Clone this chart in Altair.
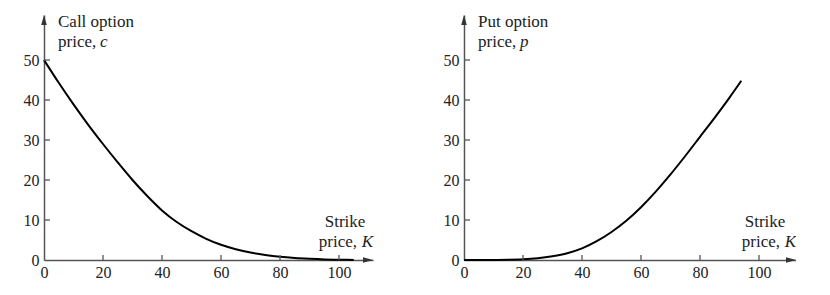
import altair as alt
import pandas as pd

# ---- data ----
call_strike = [0, 5, 10, 15, 20, 25, 30, 35, 40, 45, 50, 55, 60, 65, 70, 75, 80, 85, 90, 95, 100, 105]
call_price = [50, 44.3, 38.9, 33.8, 29.0, 24.4, 20.0, 16.0, 12.4, 9.5, 7.2, 5.3, 3.8, 2.7, 1.85, 1.25, 0.8, 0.5, 0.3, 0.15, 0.07, 0.02]

put_strike = [0, 10, 15, 20, 25, 30, 35, 40, 45, 50, 55, 60, 65, 70, 75, 80, 85, 90, 94]
put_price = [0.0, 0.02, 0.06, 0.18, 0.45, 0.95, 1.7, 2.9, 4.7, 7.0, 9.8, 13.2, 17.1, 21.4, 26.0, 30.8, 35.6, 40.6, 44.8]

x_ticks = [0, 20, 40, 60, 80, 100]
y_ticks = [0, 10, 20, 30, 40, 50]

FONT = "Times New Roman, Liberation Serif, serif"
AXIS_COLOR = "#555555"
TEXT_COLOR = "#222222"
H = 245
Y_MAX = 61.25
PX_PER_K = 2.95


def panel(strikes, prices, W, title1, var):
    xmax = W / PX_PER_K
    xs = alt.Scale(domain=[0, xmax], nice=False, zero=True)
    ys = alt.Scale(domain=[0, Y_MAX], nice=False, zero=True)
    df = pd.DataFrame({"K": strikes, "price": prices})

    xaxis = alt.Axis(values=x_ticks, ticks=False, grid=False, title=None,
                     labelFont=FONT, labelFontSize=16, labelColor=TEXT_COLOR,
                     labelPadding=4, domainColor=AXIS_COLOR, domainWidth=1.5,
                     labelFlush=False, labelOverlap=False)
    yaxis = alt.Axis(values=y_ticks, ticks=False, grid=False, title=None,
                     labelFont=FONT, labelFontSize=16, labelColor=TEXT_COLOR,
                     labelPadding=5, domainColor=AXIS_COLOR, domainWidth=1.5,
                     labelFlush=False, labelOverlap=False)

    line = alt.Chart(df).mark_line(color="black", strokeWidth=2, interpolate="monotone").encode(
        x=alt.X("K:Q", scale=xs, axis=xaxis),
        y=alt.Y("price:Q", scale=ys, axis=yaxis),
    )

    xt = alt.Chart(pd.DataFrame({"K": x_ticks[1:]})).mark_rule(
        color=AXIS_COLOR, strokeWidth=1.3).encode(
        x=alt.X("K:Q", scale=xs, axis=xaxis),
        y=alt.value(H), y2=alt.value(H - 5),
    )
    yt = alt.Chart(pd.DataFrame({"price": y_ticks[1:]})).mark_rule(
        color=AXIS_COLOR, strokeWidth=1.3).encode(
        y=alt.Y("price:Q", scale=ys, axis=yaxis),
        x=alt.value(0), x2=alt.value(6),
    )

    one = pd.DataFrame({"a": [0]})
    arrow_up = alt.Chart(one).mark_point(
        shape="M0,-1L0.55,1L-0.55,1Z", filled=True, size=100, color="#333333", opacity=1, strokeWidth=0
    ).encode(x=alt.value(0), y=alt.value(5))
    arrow_right = alt.Chart(one).mark_point(
        shape="M1,0L-1,-0.55L-1,0.55Z", filled=True, size=100, color="#333333", opacity=1, strokeWidth=0
    ).encode(x=alt.value(W - 5), y=alt.value(H))

    def txt(s, x, y, align="left", italic=False):
        return alt.Chart(one).mark_text(
            text=s, font=FONT, fontSize=17, color=TEXT_COLOR, align=align,
            baseline="alphabetic", fontStyle="italic" if italic else "normal"
        ).encode(x=alt.value(x), y=alt.value(y))

    texts = [
        txt(title1, 14, 12),
        txt("price,", 14, 32),
        txt(var, 56, 32, italic=True),
        txt("Strike", 301, 212, align="center"),
        txt("price,", W - 16, 232, align="right"),
        txt("K", W, 232, align="right", italic=True),
    ]

    return alt.layer(line, xt, yt, arrow_up, arrow_right, *texts).properties(width=W, height=H)


left = panel(call_strike, call_price, 329, "Call option", "c")
right = panel(put_strike, put_price, 332, "Put option", "p")

chart = alt.hconcat(left, right, spacing=91, bounds="flush").properties(
    padding={"left": 23, "top": 13, "right": 0, "bottom": 0},
    background="white",
).configure_view(stroke=None)

chart.save("out.html", embed_options={"renderer": "svg", "actions": False})
